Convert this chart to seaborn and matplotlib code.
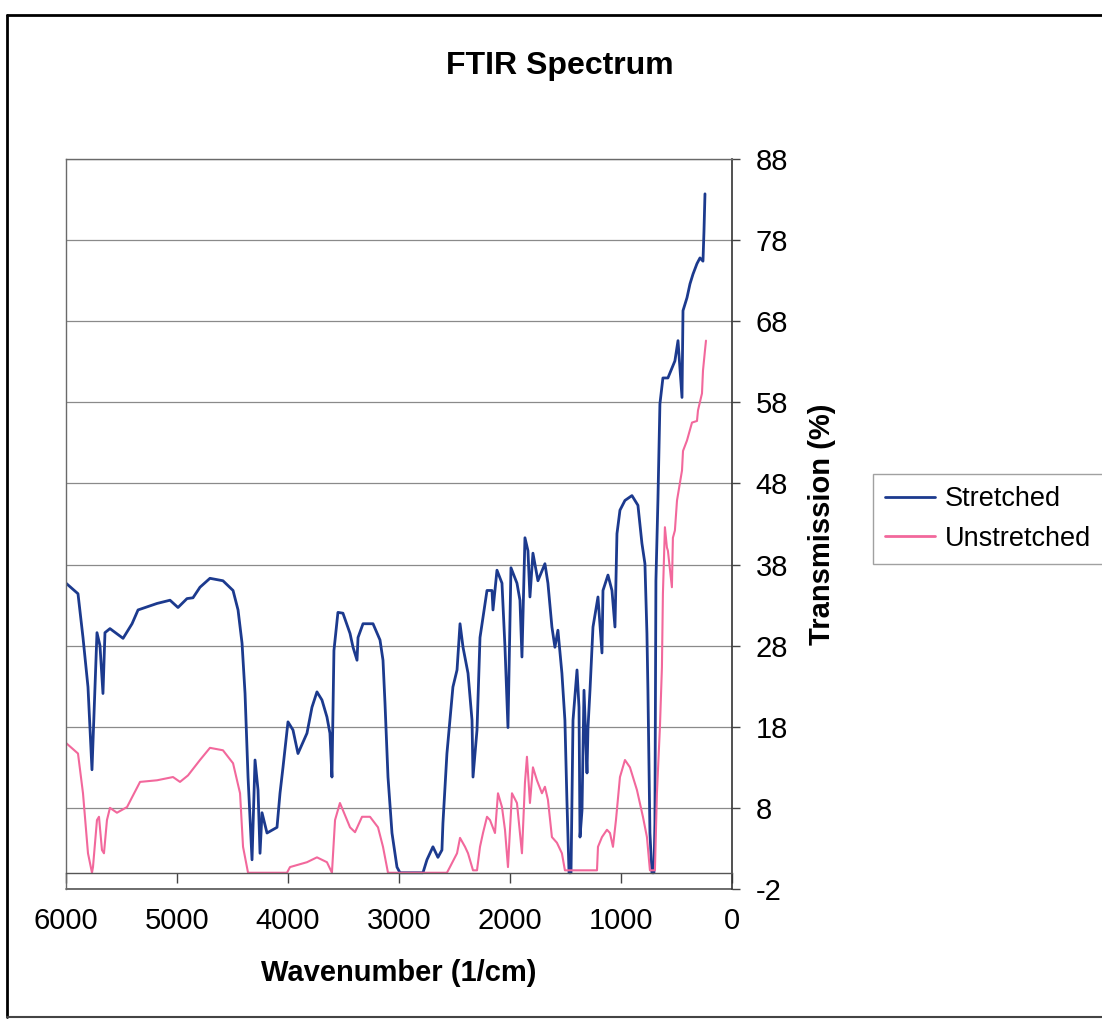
import numpy as np
import pandas as pd
import matplotlib
matplotlib.use("Agg")
import matplotlib.pyplot as plt
from matplotlib.lines import Line2D
import seaborn as sns

# Stretched sample
wn_stretched = [6000, 5892, 5847, 5802, 5766, 5721, 5694, 5667, 5649, 5604,
                5486, 5405, 5351, 5180, 5063, 4991, 4910, 4856, 4793, 4703,
                4586, 4495, 4450, 4414, 4387, 4360, 4324, 4297, 4270, 4252,
                4234, 4189, 4099, 4072, 4045, 4000, 3955, 3910, 3829, 3784,
                3739, 3694, 3649, 3622, 3604, 3586, 3550, 3505, 3441, 3414,
                3378, 3369, 3324, 3234, 3171, 3144, 3126, 3099, 3063, 3018,
                2991, 2784, 2748, 2694, 2649, 2613, 2604, 2568, 2541, 2514,
                2477, 2450, 2423, 2378, 2342, 2333, 2297, 2270, 2243, 2207,
                2162, 2153, 2117, 2072, 2045, 2018, 1991, 1937, 1910, 1892,
                1865, 1838, 1820, 1793, 1748, 1685, 1658, 1622, 1595, 1568,
                1532, 1505, 1487, 1468, 1450, 1432, 1396, 1378, 1369, 1351,
                1333, 1306, 1297, 1279, 1252, 1207, 1171, 1162, 1117, 1081,
                1054, 1036, 1009, 964, 901, 847, 811, 784, 766, 757,
                739, 721, 703, 694, 685, 667, 649, 622, 577, 514,
                486, 450, 441, 405, 378, 351, 315, 288, 261, 252, 243]
tr_stretched = [35.7, 34.4, 29.0, 22.9, 12.7, 29.6, 28.0, 22.1, 29.6, 30.1,
                28.9, 30.7, 32.4, 33.2, 33.6, 32.7, 33.8, 33.9, 35.2, 36.3,
                36.0, 34.8, 32.4, 28.3, 22.1, 11.8, 1.6, 13.9, 10.2, 2.4,
                7.4, 4.9, 5.6, 9.8, 13.0, 18.6, 17.6, 14.7, 17.2, 20.4,
                22.3, 21.3, 19.2, 17.2, 11.8, 27.4, 32.1, 32.0, 29.5, 27.8,
                26.2, 29.0, 30.7, 30.7, 28.7, 26.2, 20.9, 11.8, 4.9, 0.7,
                0.0, 0.0, 1.6, 3.2, 1.9, 2.8, 6.1, 14.7, 18.8, 22.9,
                25.0, 30.7, 27.8, 24.6, 18.8, 11.8, 17.6, 29.0, 31.5, 34.8,
                34.8, 32.4, 37.3, 35.7, 27.8, 17.9, 37.6, 35.7, 33.6, 26.6,
                41.3, 39.7, 34.0, 39.4, 36.0, 38.1, 35.7, 30.3, 27.8, 29.9,
                24.6, 18.8, 9.0, 0.0, 0.0, 18.8, 25.0, 20.4, 4.4, 7.7,
                22.5, 12.3, 17.9, 22.5, 30.3, 34.0, 27.1, 34.8, 36.7, 34.8,
                30.3, 41.8, 44.7, 45.9, 46.5, 45.3, 40.6, 38.1, 29.5, 22.5,
                4.9, 0.0, 0.0, 6.1, 36.0, 45.9, 57.8, 61.0, 61.0, 63.1,
                65.6, 58.6, 69.3, 70.9, 72.6, 73.8, 75.1, 75.8, 75.4, 79.1, 83.7]

# Unstretched sample
wn_unstretched = [6000, 5892, 5847, 5802, 5766, 5757, 5721, 5703, 5676, 5658,
                  5631, 5604, 5541, 5450, 5405, 5333, 5180, 5036, 4973, 4901,
                  4793, 4703, 4586, 4495, 4432, 4405, 4360, 4009, 3982, 3829,
                  3739, 3649, 3604, 3576, 3532, 3441, 3396, 3333, 3261, 3189,
                  3144, 3099, 2568, 2541, 2477, 2450, 2405, 2378, 2333, 2297,
                  2270, 2243, 2207, 2180, 2135, 2108, 2072, 2045, 2018, 1982,
                  1937, 1892, 1865, 1847, 1820, 1793, 1757, 1712, 1685, 1658,
                  1622, 1577, 1532, 1505, 1216, 1207, 1171, 1126, 1099, 1072,
                  1045, 1009, 964, 919, 856, 802, 766, 739, 694, 676,
                  649, 631, 622, 604, 586, 577, 541, 532, 514, 495,
                  450, 441, 405, 360, 315, 306, 270, 261, 243, 234]
tr_unstretched = [16.0, 14.7, 9.8, 2.4, 0.0, 0.7, 6.5, 6.9, 2.8, 2.4,
                  6.5, 8.0, 7.4, 8.1, 9.3, 11.2, 11.4, 11.8, 11.2, 12.0,
                  13.9, 15.4, 15.1, 13.5, 9.8, 3.2, 0.0, 0.0, 0.7, 1.3,
                  1.9, 1.3, 0.0, 6.5, 8.6, 5.6, 5.0, 6.9, 6.9, 5.6,
                  3.2, 0.0, 0.0, 0.7, 2.4, 4.3, 3.2, 2.4, 0.3, 0.3,
                  3.2, 4.9, 6.9, 6.5, 4.9, 9.8, 8.1, 5.3, 0.7, 9.8,
                  8.6, 2.4, 11.1, 14.3, 8.6, 13.0, 11.4, 9.8, 10.6, 9.0,
                  4.4, 3.7, 2.4, 0.3, 0.3, 3.2, 4.4, 5.3, 4.9, 3.2,
                  6.5, 11.8, 13.9, 13.0, 10.2, 6.9, 4.4, 0.3, 0.3, 9.8,
                  17.9, 25.3, 34.4, 42.6, 40.1, 39.7, 35.2, 41.3, 42.2, 45.9,
                  49.6, 52.0, 53.3, 55.5, 55.7, 57.0, 59.1, 61.9, 64.4, 65.6]

series_names = ["Stretched", "Unstretched"]
series_colors = ["#1c3a8e", "#f2689c"]
x_ticks = [6000, 5000, 4000, 3000, 2000, 1000, 0]
y_ticks = [-2, 8, 18, 28, 38, 48, 58, 68, 78, 88]

df = pd.concat([
    pd.DataFrame({"wn": wn_stretched, "tr": tr_stretched, "sample": series_names[0]}),
    pd.DataFrame({"wn": wn_unstretched, "tr": tr_unstretched, "sample": series_names[1]}),
])

sns.set_theme(style="white")
plt.rcParams["font.family"] = ["Liberation Sans", "DejaVu Sans"]
plt.rcParams["axes.unicode_minus"] = False
plt.rcParams["text.color"] = "black"
plt.rcParams["axes.labelcolor"] = "black"
plt.rcParams["xtick.color"] = "black"
plt.rcParams["ytick.color"] = "black"

fig = plt.figure(figsize=(11.02, 10.19), dpi=100)
ax = fig.add_axes([0.0599, 0.1276, 0.6043, 0.7164])

for name, col, lw in zip(series_names, series_colors, [2.0, 1.5]):
    sub = df[df["sample"] == name]
    sns.lineplot(data=sub, x="wn", y="tr", color=col, lw=lw, sort=False,
                 estimator=None, ax=ax, label=name, legend=False)

ax.set_xlim(6000, 0)
ax.set_ylim(-2, 88)
ax.set_xticks(x_ticks)
ax.set_yticks(y_ticks)
ax.yaxis.tick_right()
ax.yaxis.set_label_position("right")
ax.yaxis.grid(True, color="#8a8a8a", lw=0.9)
ax.xaxis.grid(False)

for s in ["top", "left"]:
    ax.spines[s].set_color("#6a6a6a")
    ax.spines[s].set_linewidth(1.0)
ax.spines["right"].set_color("#333333")
ax.spines["right"].set_linewidth(1.2)
ax.spines["bottom"].set_position(("data", 0))
ax.spines["bottom"].set_color("#555555")
ax.spines["bottom"].set_linewidth(1.0)
ax.axhline(-2, color="#555555", lw=1.2, clip_on=False)

ax.tick_params(axis="x", bottom=True, direction="out", length=7, width=1,
               color="#444444", labelsize=21, pad=18)
ax.tick_params(axis="y", right=True, left=False, direction="out", length=6,
               width=1, color="#444444", labelsize=21, pad=11)

ax.set_xlabel("Wavenumber (1/cm)", fontsize=21, fontweight="bold", labelpad=17)
ax.set_ylabel("Transmission (%)", fontsize=21, fontweight="bold", labelpad=14)

fig.text(0.508, 0.935, "FTIR Spectrum", fontsize=23, fontweight="bold",
         ha="center", va="center")

handles = [Line2D([], [], color=c, lw=2) for c in series_colors]
leg = fig.legend(handles, series_names, loc="upper left",
                 bbox_to_anchor=(0.792, 0.535), fontsize=19.5,
                 frameon=True, fancybox=False, edgecolor="#8a8a8a",
                 handlelength=1.85, handletextpad=0.35, labelspacing=0.5,
                 borderpad=0.45, borderaxespad=0)
leg.get_frame().set_linewidth(1.0)

# outer chart border
fig.add_artist(Line2D([0.0068, 0.0068], [0.002, 0.9853], color="black", lw=2,
                      transform=fig.transFigure))
fig.add_artist(Line2D([0.0068, 1.0], [0.9853, 0.9853], color="black", lw=2,
                      transform=fig.transFigure))
fig.add_artist(Line2D([0.0068, 1.0], [0.002, 0.002], color="#444444", lw=1.5,
                      transform=fig.transFigure))

fig.savefig("out.png", dpi=100)
